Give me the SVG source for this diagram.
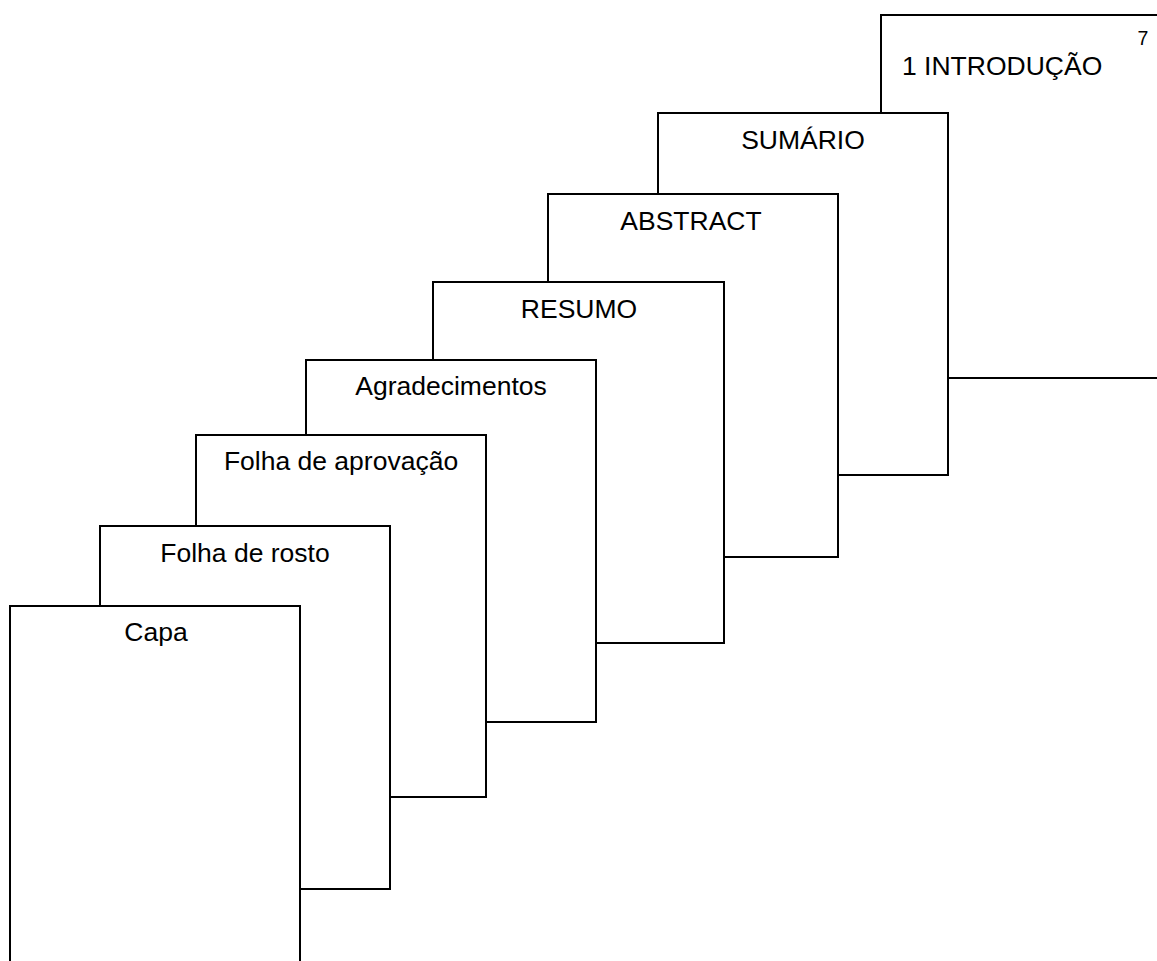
<svg xmlns="http://www.w3.org/2000/svg" width="1157" height="961" viewBox="0 0 1157 961">
<style>
.pg{fill:#fff;stroke:#000;stroke-width:2}
.t{font-family:"Liberation Sans",Arial,sans-serif;font-size:26.5px;fill:#000;text-anchor:middle}
</style>
<rect width="1157" height="961" fill="#fff"/>
<g id="introducao">
<rect class="pg" x="881" y="15" width="290" height="363"/>
<text class="t" x="902" y="75" style="text-anchor:start">1 INTRODUÇÃO</text>
<text class="t" x="1143" y="45" style="font-size:19.5px">7</text>
</g>
<g id="sumario">
<rect class="pg" x="658" y="113" width="290" height="362"/>
<text class="t" x="803" y="149">SUMÁRIO</text>
</g>
<g id="abstract">
<rect class="pg" x="548" y="194" width="290" height="363"/>
<text class="t" x="691" y="230">ABSTRACT</text>
</g>
<g id="resumo">
<rect class="pg" x="433" y="282" width="291" height="361"/>
<text class="t" x="579" y="318">RESUMO</text>
</g>
<g id="agradecimentos">
<rect class="pg" x="306" y="360" width="290" height="362"/>
<text class="t" x="451" y="395">Agradecimentos</text>
</g>
<g id="folha-aprovacao">
<rect class="pg" x="196" y="435" width="290" height="362"/>
<text class="t" x="341" y="470">Folha de aprovação</text>
</g>
<g id="folha-rosto">
<rect class="pg" x="100" y="526" width="290" height="363"/>
<text class="t" x="245" y="562">Folha de rosto</text>
</g>
<g id="capa">
<rect class="pg" x="10" y="606" width="290" height="370"/>
<text class="t" x="156" y="641">Capa</text>
</g>
<g id="connectors"></g>
</svg>
